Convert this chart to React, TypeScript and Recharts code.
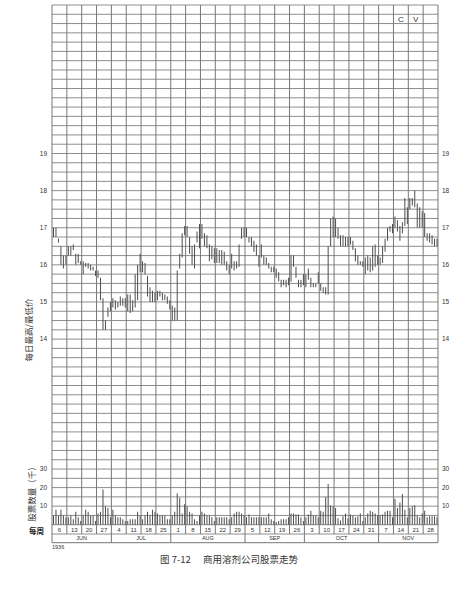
import { Bar, CartesianGrid, ComposedChart, ReferenceArea, XAxis, YAxis } from "recharts";

// 1936, six trading days per week, weeks ending on the labelled Saturday
const weekLabels = ["6", "13", "20", "27", "4", "11", "18", "25", "1", "8", "15", "22", "29", "5", "12", "19", "26", "3", "10", "17", "24", "31", "7", "14", "21", "28"];
const monthNames = ["JUN", "JUL", "AUG", "SEP", "OCT", "NOV"];
const monthStarts = [0, 4, 8, 13, 17, 22, 26];
const priceTicks = [14, 15, 16, 17, 18, 19];
const volumeTicks = [10, 20, 30];

const highs = [
  17.0, 17.0, 16.7, 16.5, 16.25, 16.25,
  16.5, 16.5, 16.55, 16.3, 16.3, 16.1,
  16.1, 16.05, 16.05, 16.0, 15.95, 15.85,
  15.85, 15.65, 15.1, 14.5, 14.85, 15.0,
  15.1, 15.05, 15.0, 15.15, 15.1, 15.1,
  15.2, 15.2, 15.05, 15.75, 16.0, 16.3,
  16.1, 16.05, 15.7, 15.4, 15.3, 15.25,
  15.3, 15.3, 15.25, 15.2, 15.15, 15.05,
  14.9, 14.85, 15.85, 16.3, 16.85, 17.05,
  17.05, 16.75, 16.5, 16.55, 16.9, 17.1,
  17.1, 16.85, 16.8, 16.55, 16.5, 16.45,
  16.45, 16.4, 16.4, 16.35, 16.1, 16.0,
  16.3, 16.1, 16.1, 16.55, 17.0, 17.0,
  17.0, 16.75, 16.75, 16.65, 16.55, 16.25,
  16.55, 16.25, 16.2, 16.05, 15.95, 15.95,
  15.9, 15.8, 15.6, 15.6, 15.6, 15.65,
  16.25, 16.25, 15.95, 15.6, 15.6, 15.75,
  15.75, 15.9, 15.65, 15.5, 15.5, 15.8,
  15.5, 15.4, 15.4, 16.5, 17.25, 17.3,
  17.25, 17.0, 16.8, 16.8, 16.75, 16.75,
  16.75, 16.65, 16.45, 16.25, 16.1, 16.1,
  16.2, 16.25, 16.2, 16.5, 16.55, 16.25,
  16.2, 16.5, 16.7, 17.0, 17.05, 17.1,
  17.3, 17.2, 17.05, 17.15, 17.8, 17.55,
  17.8, 17.8, 18.0, 17.65, 17.55, 17.45,
  17.4, 16.85, 16.85, 16.8, 16.7, 16.7
];

const lows = [
  16.75, 16.75, 16.6, 16.0, 15.9, 16.0,
  16.25, 16.25, 16.4, 16.0, 16.05, 16.0,
  15.75, 15.95, 15.9, 15.85, 15.85, 15.7,
  15.65, 15.05, 14.25, 14.25, 14.6, 14.75,
  14.85, 14.8, 14.85, 14.9, 14.9, 14.85,
  14.75, 14.7, 14.75, 14.85, 15.05, 15.8,
  15.8, 15.75, 15.15, 15.0, 15.0, 15.0,
  15.05, 15.15, 15.05, 15.05, 14.95, 14.8,
  14.5, 14.5, 14.5, 15.9, 16.2, 16.8,
  16.75, 16.3, 16.0, 15.9, 16.6, 16.45,
  16.7, 16.5, 16.45, 16.1, 16.15, 16.05,
  16.05, 16.05, 16.0, 16.0, 15.85, 15.75,
  15.9, 15.85, 15.9, 15.95, 16.7, 16.75,
  16.75, 16.6, 16.5, 16.35, 16.25, 15.95,
  16.2, 16.0, 16.0, 15.9, 15.8, 15.8,
  15.65, 15.55, 15.4, 15.45, 15.4, 15.45,
  15.55, 15.95, 15.65, 15.4, 15.4, 15.45,
  15.4, 15.6, 15.4, 15.4, 15.4, 15.5,
  15.3, 15.25, 15.2, 15.2, 16.5, 16.75,
  16.75, 16.7, 16.5, 16.5, 16.5, 16.5,
  16.55, 16.4, 16.1, 16.0, 16.0, 15.95,
  15.75, 15.85, 15.8, 15.85, 15.95, 16.0,
  16.0, 16.05, 16.35, 16.65, 16.9, 16.85,
  17.0, 16.9, 16.65, 16.85, 17.05, 17.1,
  17.5, 17.6, 17.55, 17.0, 17.0, 17.0,
  16.75, 16.65, 16.6, 16.55, 16.5, 16.5
];

// thousands of shares
const volumes = [
  5, 8, 5, 8, 5, 4,
  4, 5, 3, 7, 4, 2,
  5, 8, 7, 5, 5, 2,
  6, 7, 19, 10, 9, 4,
  8, 5, 4, 4, 3, 2,
  2, 3, 3, 3, 7, 5,
  3, 5, 7, 5, 8, 7,
  6, 5, 5, 5, 3, 3,
  5, 7, 17, 14.5, 6, 11,
  10, 7, 6, 3, 2, 5,
  7, 6, 5, 5, 4, 2,
  4, 4, 4, 4, 4, 3,
  4, 6, 7, 7, 6, 5,
  4, 5.5, 4, 4, 4, 4,
  4, 4, 4, 6, 3, 2,
  1.5, 2, 3, 3, 3, 4,
  6, 6, 5.5, 5.5, 4, 2,
  4, 5.5, 7.5, 5, 5, 4,
  7.5, 7, 15, 22, 10.5, 10,
  9, 3.5, 2.3, 4.5, 6, 3.5,
  5.5, 5, 4, 4.5, 6, 2,
  4, 6, 7.5, 7, 6, 5,
  5, 5.5, 7, 7.5, 7.5, 4,
  14, 9, 12, 16.5, 8, 4,
  9, 10, 10.5, 5, 4, 6,
  7.5, 4, 4.5, 4.5, 4.5, 4
];

const DAYS_PER_WEEK = 6;
const data = highs.map((high, i) => ({
  day: i,
  week: i / DAYS_PER_WEEK,
  range: [lows[i], high],
  vol: volumes[i]
}));
const weekBounds = Array.from({ length: weekLabels.length + 1 }, (_, i) => i);
const weekCenters = weekLabels.map((_, i) => i + 0.5);
const monthCenters = monthNames.map((_, i) => (monthStarts[i] + monthStarts[i + 1]) / 2);
const gridRows = Array.from({ length: 58 }, (_, i) => i - 1);

// the price and volume scales share the chart paper: 5 (thousand) shares per 1/4 point
const PRICE_DOMAIN = [8.75, 23];
const VOLUME_DOMAIN = [-5, 280];
const volumeAsPrice = (v: number) => PRICE_DOMAIN[0] + ((v - VOLUME_DOMAIN[0]) / (VOLUME_DOMAIN[1] - VOLUME_DOMAIN[0])) * (PRICE_DOMAIN[1] - PRICE_DOMAIN[0]);
const sideTicks = [...volumeTicks.map(volumeAsPrice), ...priceTicks];
const sideLabel = (p: number) => {
  const i = volumeTicks.findIndex((v) => Math.abs(volumeAsPrice(v) - p) < 1e-6);
  return i >= 0 ? String(volumeTicks[i]) : String(p);
};

const GRID = "#777";
const GRID_LIGHT = "#8e8e8e";
const INK = "#333";
const BAR = "#4d4d4d";
const CJK = "'Noto Sans CJK SC', sans-serif";
const MONTH_ROW = 8.7;
const tickStyle = { fontSize: 6.5, fill: INK };

const MonthTick = (props: any) => {
  const { x, y, payload } = props;
  const v = payload.value;
  if (monthStarts.includes(v)) {
    return <line x1={x} x2={x} y1={y} y2={y + MONTH_ROW} stroke={GRID} />;
  }
  return (
    <text x={x} y={y + 6.3} textAnchor="middle" fontSize={5.5} fill={INK}>
      {monthNames[monthCenters.indexOf(v)]}
    </text>
  );
};

export default function App() {
  return (
    <div style={{ position: "absolute", left: 0, top: 0, background: "#fff" }}>
      <ComposedChart
        data={data}
        height={590}
        margin={{ top: 5, right: 0, bottom: 37.3, left: 0 }}
        style={{ fontFamily: "'Liberation Sans', sans-serif" }}
        width={466}
      >
        <YAxis allowDataOverflow axisLine={false} domain={PRICE_DOMAIN} interval={0} orientation="left" tick={tickStyle} tickFormatter={sideLabel} tickLine={false} tickMargin={5} tickSize={0} ticks={sideTicks} width={52} yAxisId="price" />
        <YAxis allowDataOverflow axisLine={false} domain={PRICE_DOMAIN} interval={0} orientation="right" tick={tickStyle} tickFormatter={sideLabel} tickLine={false} tickMargin={4} tickSize={0} ticks={sideTicks} width={28} yAxisId="priceR" />

        <XAxis
          allowDataOverflow
          axisLine={false}
          dataKey="week"
          domain={[0, 26]}
          height={MONTH_ROW}
          interval={0}
          tick={MonthTick}
          tickLine={false}
          tickMargin={0}
          tickSize={0}
          ticks={[...monthStarts, ...monthCenters]}
          type="number"
          xAxisId="months"
        />
        <XAxis
          allowDataOverflow
          axisLine={{ stroke: GRID }}
          dataKey="week"
          domain={[0, 26]}
          height={10}
          interval={0}
          tick={{ fontSize: 5.5, fill: INK, textAnchor: "start" }}
          tickFormatter={() => "1936"}
          tickLine={false}
          tickMargin={2.5}
          tickSize={0}
          ticks={[0]}
          type="number"
          xAxisId="year"
        />
        <XAxis
          allowDataOverflow
          axisLine={false}
          dataKey="week"
          domain={[0, 26]}
          height={9.5}
          interval={0}
          mirror
          tick={{ fontSize: 6, fill: INK }}
          tickFormatter={(v: number) => weekLabels[Math.floor(v)]}
          tickLine={false}
          tickMargin={2}
          tickSize={0}
          ticks={weekCenters}
          type="number"
          xAxisId="weekLabels"
        />

        <XAxis allowDataOverflow dataKey="week" domain={[0, 26]} height={0} hide interval={0} ticks={weekBounds} type="number" xAxisId="weeks" />
        <XAxis dataKey="day" height={0} hide xAxisId="dayP" />
        <XAxis dataKey="day" height={0} hide xAxisId="dayV" />
        <YAxis allowDataOverflow domain={VOLUME_DOMAIN} hide width={0} yAxisId="vol" />
        <YAxis allowDataOverflow domain={[-1, 56]} hide interval={0} ticks={gridRows} width={0} yAxisId="grid" />

        <CartesianGrid horizontal={true} stroke={GRID_LIGHT} vertical={false} xAxisId="weeks" yAxisId="grid" />
        <CartesianGrid horizontal={false} stroke={GRID} vertical={true} xAxisId="weeks" yAxisId="grid" />

        <Bar barSize={1} dataKey="vol" fill={BAR} isAnimationActive={false} xAxisId="dayV" yAxisId="vol" />
        <Bar barSize={1} dataKey="range" fill={BAR} isAnimationActive={false} xAxisId="dayP" yAxisId="price" />

        <ReferenceArea fillOpacity={0} label={{ value: "C", position: "center", fontSize: 8, fill: INK }} x1={23} x2={24} xAxisId="weeks" y1={54} y2={55} yAxisId="grid" />
        <ReferenceArea fillOpacity={0} label={{ value: "V", position: "center", fontSize: 8, fill: INK }} x1={24} x2={25} xAxisId="weeks" y1={54} y2={55} yAxisId="grid" />

        <text fill={INK} fontFamily={CJK} fontSize={8.5} textAnchor="middle" dominantBaseline="central" transform="translate(28,330) rotate(-90)">
          每日最高/最低价
        </text>
        <text fill={INK} fontFamily={CJK} fontSize={8.5} textAnchor="middle" dominantBaseline="central" transform="translate(31,492) rotate(-90)">
          股票数量（千）
        </text>
        <text fill="#222" fontFamily={CJK} fontSize={7.5} fontWeight="bold" textAnchor="end" x={44} y={534}>
          每周
        </text>
        <text fill={INK} fontFamily={CJK} fontSize={9.5} x={160} y={562.5}>
          图 7-12
        </text>
        <text fill={INK} fontFamily={CJK} fontSize={9.5} x={203} y={562.5}>
          商用溶剂公司股票走势
        </text>
      </ComposedChart>
    </div>
  );
}
